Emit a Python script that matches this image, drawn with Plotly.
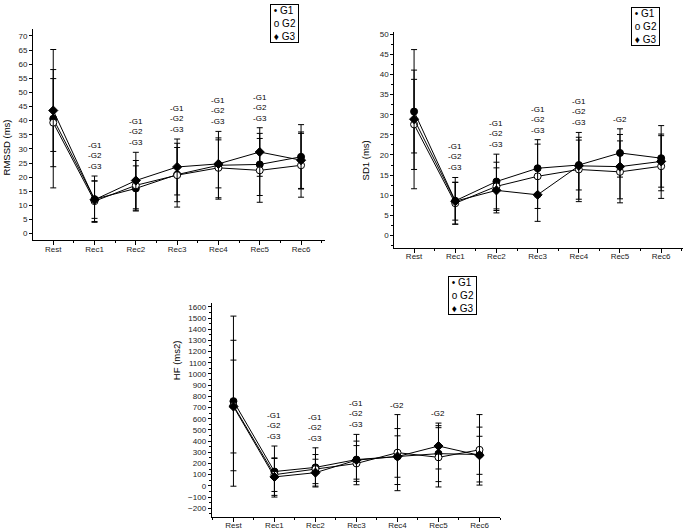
import plotly.graph_objects as go

categories = ["Rest", "Rec1", "Rec2", "Rec3", "Rec4", "Rec5", "Rec6"]
groups = ["G1", "G2", "G3"]

# RMSSD (ms)
rmssd_g1 = [40.7, 12.2, 16.0, 20.9, 24.2, 24.5, 27.2]
rmssd_g1_sd = [24.5, 8.2, 8.0, 9.6, 12.0, 11.0, 11.4]
rmssd_g2 = [39.3, 11.5, 17.1, 20.7, 23.3, 22.4, 24.2]
rmssd_g2_sd = [15.6, 7.2, 8.8, 11.3, 10.6, 11.3, 11.3]
rmssd_g3 = [43.6, 12.0, 18.8, 23.6, 24.7, 28.9, 26.0]
rmssd_g3_sd = [14.5, 6.6, 10.0, 9.9, 8.5, 8.6, 10.0]
rmssd_sig = ["", "-G1<br>-G2<br>-G3", "-G1<br>-G2<br>-G3", "-G1<br>-G2<br>-G3",
             "-G1<br>-G2<br>-G3", "-G1<br>-G2<br>-G3", ""]

# SD1 (ms)
sd1_g1 = [30.8, 8.6, 13.4, 16.7, 17.5, 20.5, 19.2]
sd1_g1_sd = [10.3, 5.8, 6.8, 7.1, 6.2, 6.0, 8.1]
sd1_g2 = [27.6, 8.0, 12.2, 14.7, 16.4, 15.8, 17.2]
sd1_g2_sd = [11.2, 5.2, 6.0, 8.0, 8.0, 7.7, 8.0]
sd1_g3 = [28.9, 8.5, 11.2, 10.1, 17.3, 17.1, 18.4]
sd1_g3_sd = [17.3, 4.7, 5.6, 6.6, 8.3, 8.0, 6.4]
sd1_sig = ["", "-G1<br>-G2<br>-G3", "-G1<br>-G2<br>-G3", "-G1<br>-G2<br>-G3",
           "-G1<br>-G2<br>-G3", "-G2", ""]

# HF (ms2)
hf_g1 = [757, 128, 165, 235, 262, 288, 280]
hf_g1_sd = [760, 228, 175, 225, 250, 250, 245]
hf_g2 = [718, 100, 150, 200, 297, 255, 322]
hf_g2_sd = [583, 150, 130, 160, 340, 265, 315]
hf_g3 = [709, 80, 118, 230, 262, 356, 273]
hf_g3_sd = [415, 165, 120, 170, 185, 205, 170]
hf_sig = ["", "-G1<br>-G2<br>-G3", "-G1<br>-G2<br>-G3", "-G1<br>-G2<br>-G3",
          "-G2", "-G2", ""]

FONT = "Liberation Sans, Arial, sans-serif"
W, H = 685, 531

marker_styles = {
    "G1": dict(symbol="circle", size=7, color="black", line=dict(color="black", width=1)),
    "G2": dict(symbol="circle", size=7, color="white", line=dict(color="black", width=1)),
    "G3": dict(symbol="diamond", size=7, color="black", line=dict(color="black", width=1)),
}

panels = [
    dict(means=[rmssd_g1, rmssd_g2, rmssd_g3], sds=[rmssd_g1_sd, rmssd_g2_sd, rmssd_g3_sd],
         sig=rmssd_sig, title="RMSSD (ms)",
         xdom=(33, 325), ydom=(27, 239.3), xr=(-0.49, 6.58), yr=(-2.4, 72.5),
         dtick=5, minor=None, ytitle=(6, 146), legend=(270, 2)),
    dict(means=[sd1_g1, sd1_g2, sd1_g3], sds=[sd1_g1_sd, sd1_g2_sd, sd1_g3_sd],
         sig=sd1_sig, title="SD1 (ms)",
         xdom=(394.3, 683), ydom=(30, 246.7), xr=(-0.48, 6.53), yr=(-3.07, 50.6),
         dtick=5, minor=2.5, ytitle=(365, 159), legend=(631, 5)),
    dict(means=[hf_g1, hf_g2, hf_g3], sds=[hf_g1_sd, hf_g2_sd, hf_g3_sd],
         sig=hf_sig, title="HF (ms2)",
         xdom=(211.7, 500), ydom=(301.7, 516.7), xr=(-0.53, 6.5), yr=(-276, 1638),
         dtick=100, minor=50, ytitle=(176, 359.5), legend=(447.7, 275)),
]

fig = go.Figure()
annotations = []
xs = list(range(len(categories)))

for k, p in enumerate(panels):
    sfx = "" if k == 0 else str(k + 1)
    for g, m, s in zip(groups, p["means"], p["sds"]):
        fig.add_trace(go.Scatter(
            x=xs, y=m, mode="lines+markers", name=g, showlegend=False,
            xaxis="x" + sfx, yaxis="y" + sfx,
            line=dict(color="black", width=1),
            marker=marker_styles[g],
            error_y=dict(type="data", array=s, visible=True, color="black",
                         thickness=1, width=3),
        ))
    x0, x1 = p["xdom"]
    yt, yb = p["ydom"]
    xa = dict(domain=[x0 / W, x1 / W], range=list(p["xr"]), anchor="y" + sfx,
              tickmode="array", tickvals=xs, ticktext=categories,
              showline=True, linecolor="black", linewidth=1, ticks="outside",
              ticklen=4, tickwidth=1, tickcolor="black", showgrid=False, zeroline=False,
              ticklabelstandoff=-3,
              tickfont=dict(family=FONT, size=8, color="#222"),
              minor=dict(tickmode="linear", tick0=0.5, dtick=1, ticks="outside",
                         ticklen=2, tickcolor="black", showgrid=False))
    ya = dict(domain=[1 - yb / H, 1 - yt / H], range=list(p["yr"]), anchor="x" + sfx,
              tick0=0, dtick=p["dtick"],
              showline=True, linecolor="black", linewidth=1, ticks="outside",
              ticklen=3, tickwidth=1, tickcolor="black", showgrid=False, zeroline=False,
              tickfont=dict(family=FONT, size=8, color="#222"))
    if p["minor"]:
        ya["minor"] = dict(tick0=0, dtick=p["minor"], ticks="outside", ticklen=2,
                           tickcolor="black", showgrid=False)
    fig.update_layout(**{"xaxis" + sfx: xa, "yaxis" + sfx: ya})

    # significance labels above the tallest error bar of each category
    for i, txt in enumerate(p["sig"]):
        if not txt:
            continue
        top = max(m[i] + s[i] for m, s in zip(p["means"], p["sds"]))
        annotations.append(dict(
            x=i, y=top, xref="x" + sfx, yref="y" + sfx, text=txt, showarrow=False,
            yanchor="bottom", yshift=3, align="center",
            font=dict(family=FONT, size=8, color="black")))

    # y axis title
    tx, ty = p["ytitle"]
    annotations.append(dict(
        x=tx / W, y=1 - ty / H, xref="paper", yref="paper", text=p["title"],
        showarrow=False, textangle=-90, xanchor="center", yanchor="middle",
        font=dict(family=FONT, size=9.5, color="black")))

    # legend box
    lx, ly = p["legend"]
    annotations.append(dict(
        x=lx / W, y=1 - ly / H, xref="paper", yref="paper",
        text="&nbsp;\u2022 G1&nbsp;<br>&nbsp;o G2&nbsp;<br>&nbsp;\u2666 G3&nbsp;",
        showarrow=False, align="left",
        xanchor="left", yanchor="top", bordercolor="black", borderwidth=1,
        borderpad=0, bgcolor="white",
        font=dict(family=FONT, size=10, color="black")))

fig.update_layout(
    width=W, height=H, margin=dict(l=0, r=0, t=0, b=0),
    paper_bgcolor="white", plot_bgcolor="white",
    annotations=annotations, showlegend=False,
)

fig.write_html("out.html", config={"displayModeBar": False},
               post_script="document.body.style.margin='0';document.body.style.padding='0';")
